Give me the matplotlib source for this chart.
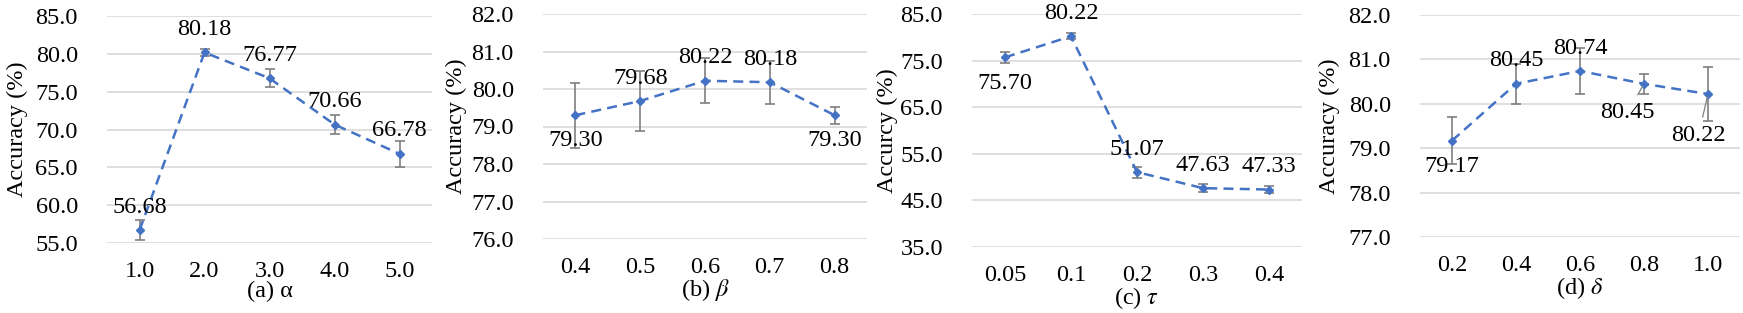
import numpy as np
import matplotlib
matplotlib.use("Agg")
import matplotlib.pyplot as plt

plt.rcParams['font.family'] = ['Liberation Serif', 'DejaVu Serif']
plt.rcParams['mathtext.fontset'] = 'stix'

# panel data
a_ticks = ["1.0", "2.0", "3.0", "4.0", "5.0"]
a_vals = [56.68, 80.18, 76.77, 70.66, 66.78]
a_err = [1.3, 0.5, 1.2, 1.3, 1.7]

b_ticks = ["0.4", "0.5", "0.6", "0.7", "0.8"]
b_vals = [79.30, 79.68, 80.22, 80.18, 79.30]
b_err = [0.86, 0.80, 0.60, 0.58, 0.23]

c_ticks = ["0.05", "0.1", "0.2", "0.3", "0.4"]
c_vals = [75.70, 80.22, 51.07, 47.63, 47.33]
c_err = [1.2, 0.6, 1.2, 0.9, 0.8]

d_ticks = ["0.2", "0.4", "0.6", "0.8", "1.0"]
d_vals = [79.17, 80.45, 80.74, 80.45, 80.22]
d_err = [0.53, 0.45, 0.52, 0.23, 0.61]

blue = "#4472C4"
grey = "#7f7f7f"
fs = 17.5

W, H = 1743, 313
fig = plt.figure(figsize=(W / 100, H / 100), dpi=100)

def make_ax(x0, x1, ytop, ybot):
    return fig.add_axes([x0 / W, (H - ybot) / H, (x1 - x0) / W, (ybot - ytop) / H])

panels = [
    (make_ax(107, 432, 16, 243), a_ticks, a_vals, a_err, (55, 85), 5, "Accuracy (%)", "(a) α",
     ["up", "up", "up", "up", "up"], -0.243),
    (make_ax(543, 867, 14, 239), b_ticks, b_vals, b_err, (76, 82), 1, "Accuracy (%)", r"(b) $\beta$",
     ["down", "up", "up", "up", "down"], -0.235),
    (make_ax(972, 1302, 14, 247), c_ticks, c_vals, c_err, (35, 85), 10, "Accurcy (%)", r"(c) $\tau$",
     ["down", "up", "up", "up", "up"], -0.224),
    (make_ax(1420, 1740, 15, 237), d_ticks, d_vals, d_err, (77, 82), 1, "Accuracy (%)", r"(d) $\delta$",
     ["down", "up", "up", "lead1", "lead2"], -0.25),
]

for ax, ticks, vals, err, ylim, step, ylab, xlab, pos, ylx in panels:
    x = np.arange(len(vals))
    ax.errorbar(x, vals, yerr=err, fmt="none", ecolor=grey, elinewidth=1.2,
                capsize=3.5, capthick=1.2, zorder=2)
    ax.plot(x, vals, color=blue, linestyle=(0, (4, 2.5)), linewidth=1.8,
            marker="D", markersize=4.5, zorder=3)
    ax.set_xlim(-0.5, len(vals) - 0.5)
    ax.set_ylim(*ylim)
    yt = np.arange(ylim[0], ylim[1] + 0.01, step)
    ax.set_yticks(yt)
    ax.set_yticklabels([f"{v:.1f}" for v in yt], fontsize=fs)
    ax.set_xticks(x)
    ax.set_xticklabels(ticks, fontsize=fs)
    ax.tick_params(axis="y", length=0, pad=21)
    ax.tick_params(axis="x", length=0, pad=13)
    ax.grid(axis="y", color="#d9d9d9", linewidth=1.2)
    ax.set_axisbelow(True)
    for s in ax.spines.values():
        s.set_visible(False)
    ax.set_ylabel(ylab, fontsize=fs)
    ax.yaxis.set_label_coords(ylx, 0.5)
    ax.set_xlabel(xlab, fontsize=fs, labelpad=-1)
    for xi, v, p in zip(x, vals, pos):
        lbl = f"{v:.2f}"
        if p == "up":
            ax.annotate(lbl, (xi, v), xytext=(0, 16.5), textcoords="offset points",
                        ha="center", va="center", fontsize=fs)
        elif p == "down":
            ax.annotate(lbl, (xi, v), xytext=(0, -18.5), textcoords="offset points",
                        ha="center", va="center", fontsize=fs)
        elif p == "lead1":
            ax.annotate(lbl, (xi, v), xytext=(-12, -21), textcoords="offset points",
                        ha="center", va="center", fontsize=fs,
                        arrowprops=dict(arrowstyle="-", color=grey, lw=0.9, shrinkA=4, shrinkB=2))
        else:
            ax.annotate(lbl, (xi, v), xytext=(-7, -30), textcoords="offset points",
                        ha="center", va="center", fontsize=fs,
                        arrowprops=dict(arrowstyle="-", color=grey, lw=0.9, shrinkA=4, shrinkB=2))

fig.savefig("out.png", dpi=100)
